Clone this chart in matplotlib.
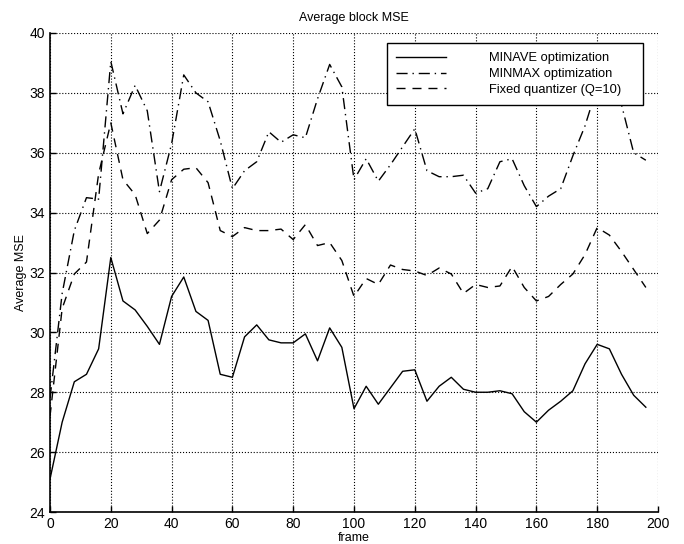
import matplotlib
matplotlib.use('Agg')
import matplotlib.pyplot as plt
from matplotlib.patches import Rectangle

# datos (un punto cada 4 frames)
frames = [0, 4, 8, 12, 16, 20, 24, 28, 32, 36,
          40, 44, 48, 52, 56, 60, 64, 68, 72, 76,
          80, 84, 88, 92, 96, 100, 104, 108, 112, 116,
          120, 124, 128, 132, 136, 140, 144, 148, 152, 156,
          160, 164, 168, 172, 176, 180, 184, 188, 192, 196]

minave = [25.1, 27.0, 28.35, 28.6, 29.45, 32.5, 31.05, 30.75, 30.2, 29.6,
          31.2, 31.85, 30.7, 30.4, 28.6, 28.5, 29.85, 30.25, 29.75, 29.65,
          29.65, 29.95, 29.05, 30.15, 29.5, 27.45, 28.2, 27.6, 28.15, 28.7,
          28.75, 27.7, 28.2, 28.5, 28.1, 28.0, 28.0, 28.05, 27.95, 27.35,
          27.0, 27.4, 27.7, 28.05, 28.95, 29.6, 29.45, 28.6, 27.9, 27.5]

minmax = [27.8, 31.3, 33.4, 34.5, 34.45, 39.05, 37.3, 38.25, 37.4, 34.7,
          36.3, 38.6, 38.0, 37.7, 36.4, 34.8, 35.4, 35.7, 36.7, 36.35,
          36.6, 36.5, 37.8, 38.95, 38.2, 35.1, 35.8, 35.05, 35.6, 36.2,
          36.8, 35.4, 35.2, 35.2, 35.25, 34.65, 34.8, 35.7, 35.8, 34.9,
          34.2, 34.55, 34.8, 35.9, 36.9, 38.2, 38.4, 37.6, 36.0, 35.75]

fixed = [27.2, 30.8, 31.95, 32.35, 35.3, 37.0, 35.1, 34.6, 33.3, 33.75,
         35.1, 35.45, 35.5, 35.0, 33.4, 33.2, 33.5, 33.4, 33.4, 33.45,
         33.1, 33.6, 32.9, 33.0, 32.4, 31.2, 31.8, 31.6, 32.25, 32.1,
         32.05, 31.9, 32.15, 31.95, 31.3, 31.6, 31.5, 31.55, 32.2, 31.5,
         31.05, 31.2, 31.6, 31.95, 32.6, 33.5, 33.25, 32.7, 32.1, 31.5]

etiquetas = ['MINAVE optimization', 'MINMAX optimization', 'Fixed quantizer (Q=10)']

plt.rcParams['font.family'] = ['Liberation Sans', 'DejaVu Sans']

fig = plt.figure(figsize=(6.84, 5.44), dpi=100)
ax = fig.add_axes([50/684, 1 - 512/544, 608/684, 479/544])

ax.plot(frames, minave, color='black', linestyle='-', linewidth=1.0, label=etiquetas[0])
ax.plot(frames, minmax, color='black', linestyle=(0, (8, 3.5, 1, 3.5)), linewidth=1.0,
        label=etiquetas[1])
ax.plot(frames, fixed, color='black', linestyle=(0, (6.5, 5)), linewidth=1.0, label=etiquetas[2])

ax.set_xlim(0, 200)
ax.set_ylim(24, 40)
ax.set_xticks(range(0, 201, 20))
ax.set_yticks(range(24, 41, 2))
ax.grid(True, color='black', linestyle=':', linewidth=0.8)
ax.spines['top'].set_visible(False)
ax.spines['right'].set_visible(False)
ax.spines['left'].set_linewidth(1.2)
ax.spines['bottom'].set_linewidth(1.2)
ax.tick_params(direction='in', length=4, labelsize=10, width=1)

ax.set_title('Average block MSE', fontsize=9, pad=9)
ax.set_xlabel('frame', fontsize=9, labelpad=1)
ax.set_ylabel('Average MSE', fontsize=9, labelpad=2)

# caja de la leyenda dibujada aparte (mas ancha que el texto, como en el original)
caja = Rectangle((337/608, (512-105)/479), 256/608, 62/479, transform=ax.transAxes,
                 facecolor='white', edgecolor='black', linewidth=1.0, zorder=4.5)
ax.add_patch(caja)

leg = ax.legend(loc='upper left', bbox_to_anchor=(337/608, 469/479), borderaxespad=0,
                fontsize=9.25, handlelength=3.9, handletextpad=3.35, labelspacing=0.3,
                borderpad=0.72, frameon=False)
leg.set_zorder(5)

fig.savefig('out.png', dpi=100)
